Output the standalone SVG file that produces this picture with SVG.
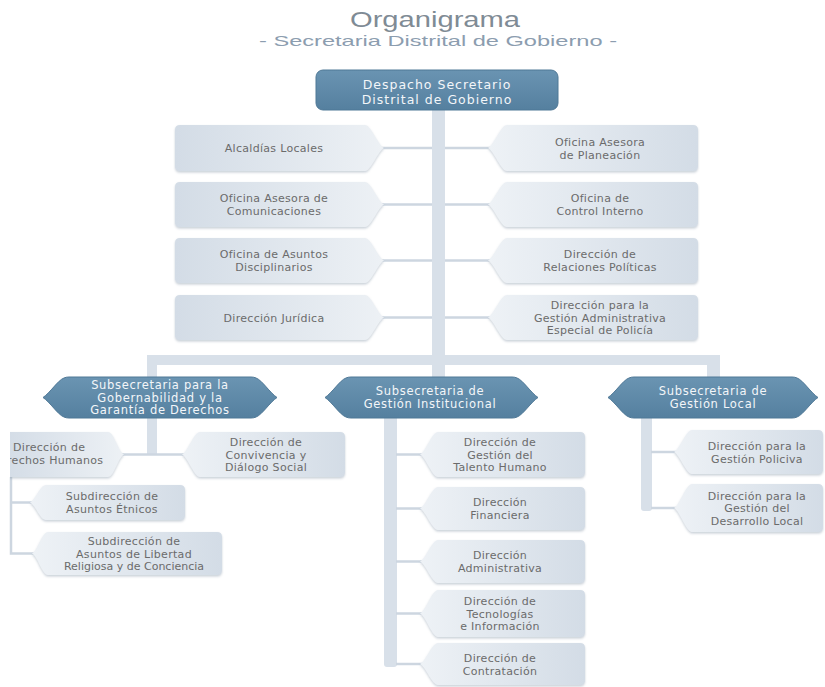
<svg xmlns="http://www.w3.org/2000/svg" width="825" height="687" viewBox="0 0 825 687">
<defs>
<linearGradient id="gR" x1="0" y1="0" x2="1" y2="0"><stop offset="0" stop-color="#d3dce6"/><stop offset="1" stop-color="#edf1f5"/></linearGradient>
<linearGradient id="gL" x1="0" y1="0" x2="1" y2="0"><stop offset="0" stop-color="#eef2f6"/><stop offset="1" stop-color="#d3dce6"/></linearGradient>
<linearGradient id="gD" x1="0" y1="0" x2="0" y2="1"><stop offset="0" stop-color="#6a94b2"/><stop offset="1" stop-color="#55809f"/></linearGradient>
<filter id="sh" x="-5%" y="-10%" width="110%" height="135%"><feDropShadow dx="0" dy="1.5" stdDeviation="1" flood-color="#8797aa" flood-opacity="0.45"/></filter>
<clipPath id="clipL"><rect x="10" y="0" width="815" height="687"/></clipPath>
</defs>
<style>
.lr{fill:url(#gR);filter:url(#sh)}
.ll{fill:url(#gL);filter:url(#sh)}
.dk{fill:url(#gD);stroke:#4f7896;stroke-width:1}
.t{font-family:"DejaVu Sans","Open Sans",sans-serif;font-size:11px;fill:#6b6b6b;text-anchor:middle;letter-spacing:0.3px}
.w{font-family:"DejaVu Sans","Open Sans",sans-serif;font-size:11.5px;fill:#f3f6f9;text-anchor:middle;letter-spacing:0.7px}
.bar{fill:#d8e0e9}
.thin{stroke:#cdd6e0;stroke-width:2.5;fill:none}
</style>
<rect width="825" height="687" fill="#ffffff"/>
<text x="435" y="27" font-family="Liberation Sans, Arial, sans-serif" font-size="22" fill="#7f8b95" text-anchor="middle" textLength="170" lengthAdjust="spacingAndGlyphs">Organigrama</text>
<text x="438" y="46" font-family="Liberation Sans, Arial, sans-serif" font-size="15" fill="#8c9daf" text-anchor="middle" textLength="358" lengthAdjust="spacingAndGlyphs">- Secretaria Distrital de Gobierno -</text>

<g id="connectors">
<line class="thin" x1="380" y1="148" x2="492" y2="148"/>
<line class="thin" x1="380" y1="204.5" x2="492" y2="204.5"/>
<line class="thin" x1="380" y1="260.5" x2="492" y2="260.5"/>
<line class="thin" x1="380" y1="317.5" x2="492" y2="317.5"/>
<rect class="bar" x="432" y="108" width="13" height="252"/>
<rect class="bar" x="147" y="355" width="573" height="10"/>
<rect class="bar" x="147" y="355" width="10" height="100"/>
<rect class="bar" x="432" y="355" width="13" height="25"/>
<rect class="bar" x="707" y="355" width="13" height="25"/>
<rect class="bar" x="384" y="415" width="13" height="252" rx="3"/>
<rect class="bar" x="641" y="415" width="11" height="96" rx="3"/>
<line class="thin" x1="120" y1="454.5" x2="186" y2="454.5"/>
<polyline class="thin" points="11,477 11,553.5 36,553.5"/>
<line class="thin" x1="11" y1="502.5" x2="34" y2="502.5"/>
<line class="thin" x1="396" y1="454.5" x2="424" y2="454.5"/>
<line class="thin" x1="396" y1="508.5" x2="424" y2="508.5"/>
<line class="thin" x1="396" y1="561.5" x2="424" y2="561.5"/>
<line class="thin" x1="396" y1="613.5" x2="424" y2="613.5"/>
<line class="thin" x1="396" y1="664" x2="424" y2="664"/>
<line class="thin" x1="651" y1="452" x2="678" y2="452"/>
<line class="thin" x1="651" y1="508" x2="678" y2="508"/>
</g>

<g id="despacho">
<rect class="dk" x="316" y="70" width="242" height="40" rx="7"/>
<text class="w" style="font-size:12.5px;letter-spacing:1px"><tspan x="437" y="88.5">Despacho Secretario</tspan><tspan x="437" y="103.5">Distrital de Gobierno</tspan></text>
</g>

<g id="alcaldias">
<path class="lr" d="M180,125 H365 C371,125 378,145 384,148 C378,151 371,171 365,171 H180 Q175,171 175,166 V130 Q175,125 180,125 Z"/>
<text class="t" x="274" y="152">Alcaldías Locales</text>
</g>
<g id="comunicaciones">
<path class="lr" d="M180,182 H365 C371,182 378,201.5 384,204.5 C378,207.5 371,227 365,227 H180 Q175,227 175,222 V187 Q175,182 180,182 Z"/>
<text class="t"><tspan x="274" y="202">Oficina Asesora de</tspan><tspan x="274" y="215">Comunicaciones</tspan></text>
</g>
<g id="disciplinarios">
<path class="lr" d="M180,238 H365 C371,238 378,257.5 384,260.5 C378,263.5 371,283 365,283 H180 Q175,283 175,278 V243 Q175,238 180,238 Z"/>
<text class="t"><tspan x="274" y="258">Oficina de Asuntos</tspan><tspan x="274" y="271">Disciplinarios</tspan></text>
</g>
<g id="juridica">
<path class="lr" d="M180,295 H365 C371,295 378,314.5 384,317.5 C378,320.5 371,340 365,340 H180 Q175,340 175,335 V300 Q175,295 180,295 Z"/>
<text class="t" x="274" y="321.5">Dirección Jurídica</text>
</g>

<g id="planeacion">
<path class="ll" d="M488,148 C494,145 501,125 507,125 H693 Q698,125 698,130 V166 Q698,171 693,171 H507 C501,171 494,151 488,148 Z"/>
<text class="t"><tspan x="600" y="146">Oficina Asesora</tspan><tspan x="600" y="158.5">de Planeación</tspan></text>
</g>
<g id="control">
<path class="ll" d="M488,204.5 C494,201.5 501,182 507,182 H693 Q698,182 698,187 V222 Q698,227 693,227 H507 C501,227 494,207.5 488,204.5 Z"/>
<text class="t"><tspan x="600" y="202">Oficina de</tspan><tspan x="600" y="215">Control Interno</tspan></text>
</g>
<g id="relaciones">
<path class="ll" d="M488,260.5 C494,257.5 501,238 507,238 H693 Q698,238 698,243 V278 Q698,283 693,283 H507 C501,283 494,263.5 488,260.5 Z"/>
<text class="t"><tspan x="600" y="258">Dirección de</tspan><tspan x="600" y="271">Relaciones Políticas</tspan></text>
</g>
<g id="policia">
<path class="ll" d="M488,317.5 C494,314.5 501,295 507,295 H693 Q698,295 698,300 V335 Q698,340 693,340 H507 C501,340 494,320.5 488,317.5 Z"/>
<text class="t"><tspan x="600" y="309">Dirección para la</tspan><tspan x="600" y="321.5">Gestión Administrativa</tspan><tspan x="600" y="334">Especial de Policía</tspan></text>
</g>

<g id="sub-gobernabilidad">
<path class="dk" d="M43,397.5 C50,393 58,380 64,378 Q66,377 69,377 H251 Q254,377 256,378 C262,380 270,393 277,397.5 C270,402 262,415 256,417 Q254,418 251,418 H69 Q66,418 64,417 C58,415 50,402 43,397.5 Z"/>
<text class="w"><tspan x="160" y="389">Subsecretaria para la</tspan><tspan x="160" y="401.5">Gobernabilidad y la</tspan><tspan x="160" y="414">Garantía de Derechos</tspan></text>
</g>
<g id="sub-institucional">
<path class="dk" d="M325,397.5 C332,393 340,380 346,378 Q348,377 351,377 H512 Q515,377 517,378 C523,380 531,393 538,397.5 C531,402 523,415 517,417 Q515,418 512,418 H351 Q348,418 346,417 C340,415 332,402 325,397.5 Z"/>
<text class="w"><tspan x="430" y="395">Subsecretaria de</tspan><tspan x="430" y="408">Gestión Institucional</tspan></text>
</g>
<g id="sub-local">
<path class="dk" d="M608,397.5 C615,393 623,380 629,378 Q631,377 634,377 H792 Q795,377 797,378 C803,380 811,393 818,397.5 C811,402 803,415 797,417 Q795,418 792,418 H634 Q631,418 629,417 C623,415 615,402 608,397.5 Z"/>
<text class="w"><tspan x="713" y="395">Subsecretaria de</tspan><tspan x="713" y="408">Gestión Local</tspan></text>
</g>

<g id="derechos-humanos" clip-path="url(#clipL)">
<path class="lr" d="M4,432 H108 C114,432 118,451.5 124,454.5 C118,457.5 114,477 108,477 H4 Z"/>
<text class="t" style="text-anchor:start"><tspan x="13" y="451">Dirección de</tspan><tspan x="7" y="464">rechos Humanos</tspan></text>
</g>
<g id="convivencia">
<path class="ll" d="M182,454.5 C188,451.5 194,432 200,432 H340 Q345,432 345,437 V472 Q345,477 340,477 H200 C194,477 188,457.5 182,454.5 Z"/>
<text class="t"><tspan x="266" y="446">Dirección de</tspan><tspan x="266" y="458.5">Convivencia y</tspan><tspan x="266" y="471">Diálogo Social</tspan></text>
</g>
<g id="etnicos">
<path class="ll" d="M30,502.5 C36,499.5 40,485 46,485 H180 Q185,485 185,490 V515 Q185,520 180,520 H46 C40,520 36,505.5 30,502.5 Z"/>
<text class="t"><tspan x="112" y="500">Subdirección de</tspan><tspan x="112" y="513">Asuntos Étnicos</tspan></text>
</g>
<g id="libertad">
<path class="ll" d="M32,553.5 C38,550.5 42,532 48,532 H217 Q222,532 222,537 V570 Q222,575 217,575 H48 C42,575 38,556.5 32,553.5 Z"/>
<text class="t"><tspan x="134" y="545">Subdirección de</tspan><tspan x="134" y="557.5">Asuntos de Libertad</tspan><tspan x="134" y="570" style="letter-spacing:0">Religiosa y de Conciencia</tspan></text>
</g>

<g id="talento">
<path class="ll" d="M420,454.5 C426,451.5 432,432 438,432 H580 Q585,432 585,437 V472 Q585,477 580,477 H438 C432,477 426,457.5 420,454.5 Z"/>
<text class="t"><tspan x="500" y="446">Dirección de</tspan><tspan x="500" y="458.5">Gestión del</tspan><tspan x="500" y="471">Talento Humano</tspan></text>
</g>
<g id="financiera">
<path class="ll" d="M420,508.5 C426,505.5 432,487 438,487 H580 Q585,487 585,492 V525 Q585,530 580,530 H438 C432,530 426,511.5 420,508.5 Z"/>
<text class="t"><tspan x="500" y="506">Dirección</tspan><tspan x="500" y="519">Financiera</tspan></text>
</g>
<g id="administrativa">
<path class="ll" d="M420,561.5 C426,558.5 432,540 438,540 H580 Q585,540 585,545 V578 Q585,583 580,583 H438 C432,583 426,564.5 420,561.5 Z"/>
<text class="t"><tspan x="500" y="559">Dirección</tspan><tspan x="500" y="572">Administrativa</tspan></text>
</g>
<g id="tecnologias">
<path class="ll" d="M420,613.5 C426,610.5 432,590 438,590 H580 Q585,590 585,595 V632 Q585,637 580,637 H438 C432,637 426,616.5 420,613.5 Z"/>
<text class="t"><tspan x="500" y="605">Dirección de</tspan><tspan x="500" y="617.5">Tecnologías</tspan><tspan x="500" y="630">e Información</tspan></text>
</g>
<g id="contratacion">
<path class="ll" d="M420,664 C426,661 432,643 438,643 H580 Q585,643 585,648 V680 Q585,685 580,685 H438 C432,685 426,667 420,664 Z"/>
<text class="t"><tspan x="500" y="662">Dirección de</tspan><tspan x="500" y="675">Contratación</tspan></text>
</g>

<g id="policiva">
<path class="ll" d="M674,452 C680,449 686,430 692,430 H818 Q823,430 823,435 V469 Q823,474 818,474 H692 C686,474 680,455 674,452 Z"/>
<text class="t"><tspan x="757" y="450">Dirección para la</tspan><tspan x="757" y="462.5">Gestión Policiva</tspan></text>
</g>
<g id="desarrollo-local">
<path class="ll" d="M674,508 C680,505 686,484 692,484 H818 Q823,484 823,489 V527 Q823,532 818,532 H692 C686,532 680,511 674,508 Z"/>
<text class="t"><tspan x="757" y="499.5">Dirección para la</tspan><tspan x="757" y="512">Gestión del</tspan><tspan x="757" y="524.5">Desarrollo Local</tspan></text>
</g>
</svg>
